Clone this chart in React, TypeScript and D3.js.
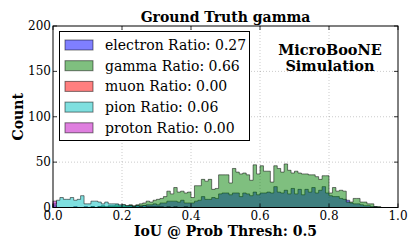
import React from 'react';
import * as d3 from 'd3';

// 100 bins over IoU 0..1, counts
const electronCounts = [
  2, 0, 0, 0, 0, 0, 1, 0, 0, 1, 0, 1, 0, 1, 1, 0, 1, 1, 1, 1, 1, 1, 2, 1, 2,
  2, 2, 3, 3, 4, 3, 5, 5, 7, 7, 7, 6, 8, 5, 5, 5, 7, 8, 12, 9, 9, 11, 10, 15, 16,
  16, 14, 16, 16, 12, 16, 15, 13, 17, 14, 16, 16, 17, 16, 23, 17, 16, 19, 15, 21,
  15, 20, 14, 20, 17, 22, 16, 19, 23, 16, 13, 12, 12, 10, 9, 8, 5, 4, 4, 3,
  2, 2, 1, 1, 0, 0, 0, 0, 0, 0,
];
const gammaCounts = [
  0, 0, 0, 0, 0, 0, 0, 0, 0, 0, 0, 1, 0, 1, 2, 1, 2, 2, 3, 2, 3, 2, 3, 2, 3,
  4, 5, 7, 6, 8, 9, 10, 12, 18, 15, 22, 17, 18, 16, 17, 11, 24, 24, 31, 29,
  31, 20, 21, 36, 36, 36, 27, 43, 39, 37, 38, 36, 30, 47, 37, 46, 40, 40, 28, 46,
  43, 39, 48, 41, 38, 40, 38, 37, 37, 36, 36, 34, 31, 35, 35, 16, 22, 18, 19, 18,
  6, 6, 10, 10, 6, 6, 4, 4, 1, 1, 0, 0, 0, 0, 0,
];
const muonCounts: number[] = [];
const pionCounts = [
  4, 8, 11, 9, 9, 11, 8, 9, 13, 4, 4, 7, 7, 6, 4, 6, 4, 4, 4, 3, 3, 2, 2, 1, 2,
  1, 2, 1, 1, 1, 1, 1, 0, 1, 0, 1, 0, 0, 1, 0,
];
const protonCounts = [7];

const seriesNames = ['electron', 'gamma', 'muon', 'pion', 'proton'];
const seriesRatios = ['0.27', '0.66', '0.00', '0.06', '0.00'];
const seriesColors = ['#0000ff', '#008000', '#ff0000', '#00bfbf', '#bf00bf'];
const seriesCounts = [electronCounts, gammaCounts, muonCounts, pionCounts, protonCounts];

const xTicks = [0, 0.2, 0.4, 0.6, 0.8, 1.0];
const yTicks = [0, 50, 100, 150, 200];
const nBins = 100;

const W = 419;
const H = 252;
const serif = '"DejaVu Serif", serif';

export default function App() {
  const x = d3.scaleLinear().domain([0, 1]).range([53, 398]);
  const y = d3.scaleLinear().domain([0, 200]).range([207.5, 26]);
  const edges = d3.range(nBins + 1).map(i => i / nBins);

  const stepPath = (counts: number[]) => {
    const pts: [number, number][] = [[0, 0]];
    for (let i = 0; i < nBins; i++) {
      const c = counts[i] || 0;
      pts.push([edges[i], c], [edges[i + 1], c]);
    }
    pts.push([1, 0]);
    const line = d3.line<[number, number]>().x(d => x(d[0])).y(d => y(d[1]));
    return line(pts) + 'Z';
  };

  const [x0, x1] = x.range();
  const [y0, y1] = y.range();

  return (
    <svg width={W} height={H} style={{ position: 'absolute', left: 0, top: 0, background: '#fff' }}>
      <rect width={W} height={H} fill="#fff" />

      {/* grid */}
      {xTicks.slice(1, -1).map(t => (
        <line key={'gx' + t} x1={x(t)} x2={x(t)} y1={y1} y2={y0}
          stroke="#000" strokeOpacity={0.35} strokeWidth={0.6} strokeDasharray="1,2" />
      ))}
      {yTicks.slice(1, -1).map(t => (
        <line key={'gy' + t} x1={x0} x2={x1} y1={y(t)} y2={y(t)}
          stroke="#000" strokeOpacity={0.35} strokeWidth={0.6} strokeDasharray="1,2" />
      ))}

      {/* histograms */}
      {seriesCounts.map((counts, i) => counts.length === 0 ? null : (
        <path key={seriesNames[i]} d={stepPath(counts)}
          fill={seriesColors[i]} fillOpacity={0.5}
          stroke="#000" strokeOpacity={0.5} strokeWidth={1} />
      ))}

      {/* frame */}
      <rect x={x0} y={y1} width={x1 - x0} height={y0 - y1} fill="none" stroke="#000" strokeWidth={1} />

      {/* ticks, inside, all four sides */}
      {xTicks.map(t => (
        <g key={'tx' + t}>
          <line x1={x(t)} x2={x(t)} y1={y0} y2={y0 - 4} stroke="#000" strokeWidth={0.8} />
          <line x1={x(t)} x2={x(t)} y1={y1} y2={y1 + 4} stroke="#000" strokeWidth={0.8} />
          <text x={x(t)} y={219.5} textAnchor="middle" fontFamily={serif} fontSize={12}>
            {t.toFixed(1)}
          </text>
        </g>
      ))}
      {yTicks.map(t => (
        <g key={'ty' + t}>
          <line x1={x0} x2={x0 + 4} y1={y(t)} y2={y(t)} stroke="#000" strokeWidth={0.8} />
          <line x1={x1} x2={x1 - 4} y1={y(t)} y2={y(t)} stroke="#000" strokeWidth={0.8} />
          <text x={51} y={y(t) + 4} textAnchor="end" fontFamily={serif} fontSize={12}>
            {t}
          </text>
        </g>
      ))}

      {/* titles */}
      <text x={(x0 + x1) / 2} y={21.5} textAnchor="middle" fontFamily={serif} fontWeight="bold" fontSize={14}>
        Ground Truth gamma
      </text>
      <text x={(x0 + x1) / 2} y={236} textAnchor="middle" fontFamily={serif} fontWeight="bold" fontSize={14}>
        IoU @ Prob Thresh: 0.5
      </text>
      <text transform={`translate(23,${(y0 + y1) / 2}) rotate(-90)`} textAnchor="middle"
        fontFamily={serif} fontWeight="bold" fontSize={14}>
        Count
      </text>

      <text x={330} y={54.5} textAnchor="middle" fontFamily={serif} fontWeight="bold" fontSize={14.5}>
        MicroBooNE
      </text>
      <text x={330} y={71} textAnchor="middle" fontFamily={serif} fontWeight="bold" fontSize={14.5}>
        Simulation
      </text>

      {/* legend */}
      <rect x={59.5} y={31.5} width={190} height={109} fill="#fff" stroke="#000" strokeWidth={1} />
      {seriesNames.map((name, i) => {
        const cy = 45 + i * 20.7;
        return (
          <g key={'lg' + name}>
            <rect x={65} y={cy - 5} width={28} height={10}
              fill={seriesColors[i]} fillOpacity={0.5} stroke="#000" strokeOpacity={0.5} strokeWidth={1} />
            <text x={105} y={cy + 5} fontFamily={serif} fontSize={14}>
              {`${name} Ratio: ${seriesRatios[i]}`}
            </text>
          </g>
        );
      })}
    </svg>
  );
}
